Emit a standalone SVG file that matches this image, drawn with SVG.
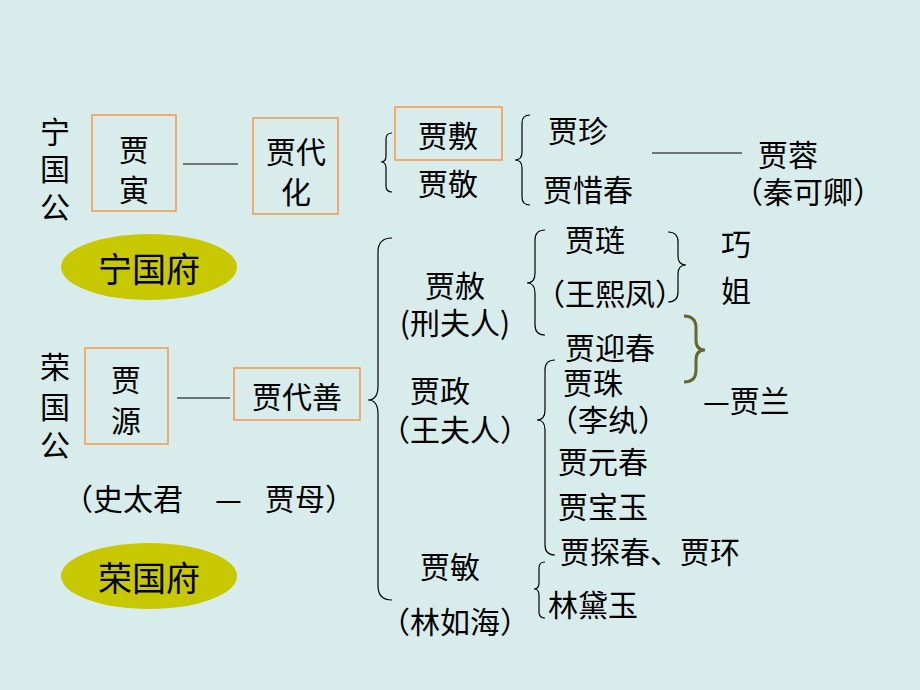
<svg xmlns="http://www.w3.org/2000/svg" width="920" height="690" viewBox="0 0 920 690">
<style>
text{font-family:"Noto Sans CJK SC","Noto Sans",sans-serif;font-size:30px;fill:#000;dominant-baseline:central}
.c{text-anchor:middle}
.box{fill:none;stroke:#f79646;stroke-width:1.5}
.ln{fill:none;stroke:#000;stroke-width:1.2}
.ell{fill:#c8c800}
.f{font-size:34px}
</style>
<rect width="920" height="690" fill="#d9ecec"/>
<g id="ningguogong"><text class="c" x="55" y="130">宁</text><text class="c" x="55" y="167">国</text><text class="c" x="55" y="205">公</text></g>
<g id="jiayin"><rect class="box" x="92" y="115" width="84" height="96"/><text class="c" x="134" y="148">贾</text><text class="c" x="134" y="188">寅</text></g>
<g id="jiadaihua"><rect class="box" x="253" y="118" width="85" height="96"/><text class="c" x="296" y="150">贾代</text><text class="c" x="296" y="190">化</text></g>
<g id="jiafu"><rect class="box" x="395" y="107" width="107" height="53"/><text class="c" x="448" y="134">贾敷</text></g>
<g id="jiajing"><text class="c" x="448" y="182">贾敬</text></g>
<g id="jiazhen"><text x="548" y="129">贾珍</text></g>
<g id="jiaxichun"><text x="543" y="188">贾惜春</text></g>
<g id="jiarong"><text x="758" y="153">贾蓉</text><text x="733" y="190">（秦可卿）</text></g>
<g id="ningguofu"><ellipse class="ell" cx="149" cy="267" rx="88" ry="33"/><text class="c f" x="149" y="267">宁国府</text></g>
<g id="rongguogong"><text class="c" x="55" y="365">荣</text><text class="c" x="55" y="405">国</text><text class="c" x="55" y="443">公</text></g>
<g id="jiayuan"><rect class="box" x="85" y="348" width="83" height="96"/><text class="c" x="126" y="378">贾</text><text class="c" x="126" y="419">源</text></g>
<g id="jiadaishan"><rect class="box" x="234" y="368" width="126" height="52"/><text class="c" x="297" y="395">贾代善</text></g>
<g id="shitaijun"><text x="63" y="497">（史太君</text><text x="215" y="497">—</text><text x="265" y="497">贾母）</text></g>
<g id="rongguofu"><ellipse class="ell" cx="149" cy="576" rx="88" ry="33"/><text class="c f" x="149" y="576">荣国府</text></g>
<g id="jiashe"><text class="c" x="455" y="284">贾赦</text><text class="c" x="455" y="321">(刑夫人)</text></g>
<g id="jialian"><text x="565" y="238">贾琏</text><text x="535" y="292">（王熙凤）</text></g>
<g id="qiaojie"><text class="c" x="736" y="242">巧</text><text class="c" x="736" y="289">姐</text></g>
<g id="jiayingchun"><text x="565" y="346">贾迎春</text></g>
<g id="jialan"><text x="703" y="399">—贾兰</text></g>
<g id="jiazheng"><text class="c" x="440" y="389">贾政</text><text class="c" x="455" y="428">（王夫人）</text></g>
<g id="jiazhu"><text x="563" y="381">贾珠</text><text x="548" y="418">（李纨）</text></g>
<g id="jiayuanchun"><text x="558" y="460">贾元春</text></g>
<g id="jiabaoyu"><text x="558" y="505">贾宝玉</text></g>
<g id="jiatanchun"><text x="560" y="550">贾探春、贾环</text></g>
<g id="jiamin"><text class="c" x="450" y="565">贾敏</text><text class="c" x="455" y="620">（林如海）</text></g>
<g id="lindaiyu"><text x="548" y="603">林黛玉</text></g>
<g id="connectors">
<line class="ln" x1="183" y1="164" x2="238" y2="164"/>
<line class="ln" x1="652" y1="153" x2="742" y2="153"/>
<line class="ln" x1="177" y1="398" x2="230" y2="398"/>
<path class="ln" d="M392,133 q-6,0 -6,6 V156 q0,6 -5,6 q5,0 5,6 V186 q0,6 6,6"/>
<path class="ln" d="M530,115 q-8,0 -8,8 V152 q0,8 -7,8 q7,0 7,8 V197 q0,8 8,8"/>
<path class="ln" d="M392,238 q-14,0 -14,14 V386 q0,14 -10,14 q10,0 10,14 V586 q0,14 14,14"/>
<path class="ln" d="M545,230 q-10,0 -10,10 V273 q0,10 -8,10 q8,0 8,10 V325 q0,10 10,10"/>
<path class="ln" d="M668,232 q10,0 10,10 V256 q0,9 8,9 q-8,0 -8,9 V292 q0,10 -10,10"/>
<path d="M684,316 q12,0 12,12 V340 q0,10 9,10 q-9,0 -9,10 V370 q0,12 -12,12" fill="none" stroke="#666633" stroke-width="3"/>
<path class="ln" d="M555,360 q-10,0 -10,10 V410 q0,10 -8,10 q8,0 8,10 V545 q0,10 10,10"/>
<path class="ln" d="M545,562 q-6,0 -6,6 V583 q0,6 -5,6 q5,0 5,6 V612 q0,6 6,6"/>
</g>
</svg>
